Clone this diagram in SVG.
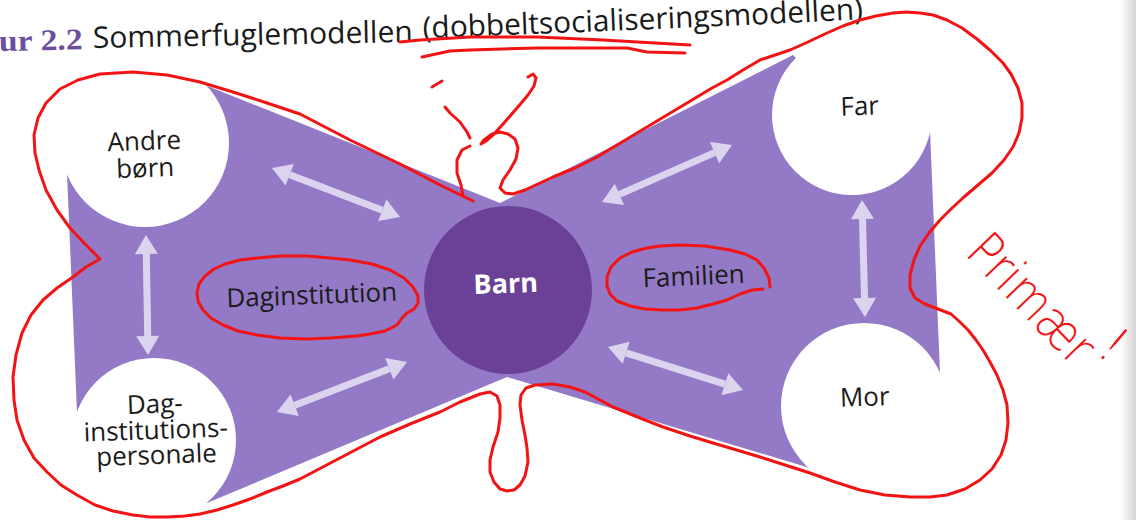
<svg xmlns="http://www.w3.org/2000/svg" width="1136" height="520" viewBox="0 0 1136 520">
  <defs>
    <style>
      .wing { fill: #9479c6; }
      .node { fill: #ffffff; }
      .core { fill: #6a4197; }
      .lbl { font-family: "Open Sans", "Noto Sans", "Liberation Sans", sans-serif; font-size: 26px; fill: #1b1b1b; text-anchor: middle; }
      .lblw { font-family: "Open Sans", "Noto Sans", "Liberation Sans", sans-serif; font-size: 27px; font-weight: bold; fill: #ffffff; text-anchor: middle; }
      .arrow { stroke: #dcd4ef; stroke-width: 7; fill: none; marker-start: url(#ah); marker-end: url(#ah); }
      .ink { fill: none; stroke: #f21414; stroke-width: 3; stroke-linecap: round; stroke-linejoin: round; }
      .hand { font-family: "DejaVu Sans", sans-serif; font-weight: 200; font-size: 52px; fill: #f21414; }
      .title { font-family: "Open Sans", "Noto Sans", "Liberation Sans", sans-serif; font-size: 29.8px; fill: #1a1a1a; }
    </style>
    <marker id="ah" markerUnits="userSpaceOnUse" markerWidth="22" markerHeight="26" viewBox="0 -13 20 26" refX="0" refY="0" orient="auto-start-reverse">
      <path d="M0,-11.5 L19,0 L0,11.5 z" fill="#dcd4ef"/>
    </marker>
    <linearGradient id="edge" x1="0" y1="0" x2="1" y2="0">
      <stop offset="0" stop-color="#ffffff"/>
      <stop offset="1" stop-color="#d2d2d2"/>
    </linearGradient>
    <path id="titlePath" d="M423,38 Q650,30 868,19"/>
  </defs>

  <rect x="0" y="0" width="1136" height="520" fill="#ffffff"/>
  <rect x="1120" y="0" width="16" height="520" fill="url(#edge)"/>

  <!-- title -->
  <g id="title">
    <text x="-1" y="51" font-family="Liberation Serif, serif" font-weight="bold" font-size="30" fill="#6b4f9e" textLength="84" lengthAdjust="spacingAndGlyphs" transform="rotate(-1.2 0 51)">ur 2.2</text>
    <text class="title" x="93" y="48" textLength="320" lengthAdjust="spacingAndGlyphs" transform="rotate(-1.1 93 48)">Sommerfuglemodellen</text>
    <text class="title"><textPath href="#titlePath">(dobbeltsocialiseringsmodellen)</textPath></text>
  </g>

  <!-- butterfly body -->
  <g id="wings">
    <polygon class="wing" points="205,85 500,203 793,55 852,115 930,130 940,373 864,406 810,468 507,377 207,503 154,440 77,413 67,173 145,143"/>
  </g>

  <!-- connectors -->
  <g id="connectors">
    <line class="arrow" x1="146.3" y1="254" x2="147.7" y2="336"/>
    <line class="arrow" x1="289.7" y1="174.8" x2="382.3" y2="210.2"/>
    <line class="arrow" x1="294.7" y1="405.2" x2="389.3" y2="368.8"/>
    <line class="arrow" x1="619.4" y1="194.4" x2="714.6" y2="152.6"/>
    <line class="arrow" x1="626.1" y1="352.8" x2="724.9" y2="384.2"/>
    <line class="arrow" x1="862.5" y1="219" x2="864.5" y2="298"/>
  </g>

  <g id="node-andre">
    <circle class="node" cx="145" cy="143" r="84"/>
    <text class="lbl" transform="rotate(-2 145 163)"><tspan x="145" y="150">Andre</tspan><tspan x="145" y="177">børn</tspan></text>
  </g>
  <g id="node-personale">
    <circle class="node" cx="154" cy="440" r="82"/>
    <text class="lbl" transform="rotate(-2 156 439)"><tspan x="156" y="413">Dag-</tspan><tspan x="156" y="439">institutions-</tspan><tspan x="156" y="464">personale</tspan></text>
  </g>
  <g id="node-far">
    <circle class="node" cx="852" cy="115" r="80"/>
    <text class="lbl" x="860" y="115" transform="rotate(-2 860 115)">Far</text>
  </g>
  <g id="node-mor">
    <circle class="node" cx="864" cy="406" r="83"/>
    <text class="lbl" x="865" y="406" transform="rotate(-2 865 406)">Mor</text>
  </g>
  <g id="node-barn">
    <circle class="core" cx="508" cy="290" r="84"/>
    <text class="lblw" x="506" y="293" transform="rotate(-2 506 293)">Barn</text>
  </g>
  <g id="node-daginstitution">
    <text class="lbl" x="312" y="304" transform="rotate(-2.2 312 304)">Daginstitution</text>
  </g>
  <g id="node-familien">
    <text class="lbl" x="694" y="285" transform="rotate(-2.5 694 285)">Familien</text>
  </g>

  <!-- handwritten annotations -->
  <g id="annotations">
    <path class="ink" d="M400,42 L420,40 L470,37 L537,37 L603,40 L690,45"/>
    <path class="ink" d="M422,57 L450,51 L470,50 L537,48 L627,48 L647,52 L685,53"/>
    <path class="ink" d="M473,201 L440,185 L400,164 L350,140 L300,114 L267,103 L233,92 L200,82 L167,75 L133,72 L100,74 L78,80 L60,89 L46,103 L38,118 L34,135 L35,153 L39,170 L46,190 L57,210 L70,228 L84,243 L100,259 L86,267 L73,277 L57,288 L43,300 L31,315 L22,333 L16,355 L13,377 L14,400 L17,420 L24,440 L34,458 L47,472 L61,485 L77,495 L95,505 L113,511 L133,515 L150,517 L167,517 L185,516 L200,514 L217,510 L233,505 L250,499 L267,492 L283,486 L300,479 L340,458 L380,437 L410,424 L440,412 L460,402 L480,394 L490,392 L497,396 L500,405 L500,418 L498,432 L493,447 L490,460 L490,472 L494,482 L500,489 L507,491 L514,490 L520,485 L525,476 L528,462 L527,448 L525,435 L522,420 L520,405 L521,395 L526,388 L535,385 L553,384 L570,387 L585,392 L600,400 L613,407 L640,418 L663,427 L690,436 L713,443 L740,451 L760,457 L785,465 L810,473 L835,482 L860,490 L885,495 L910,497 L930,497 L947,495 L965,489 L980,480 L992,469 L1001,455 L1006,440 L1008,423 L1007,405 L1003,390 L997,375 L990,362 L983,350 L976,340 L968,330 L960,322 L951,314 L938,309 L925,304 L915,298 L910,288 L910,275 L914,260 L920,246 L929,233 L940,220 L952,208 L964,197 L978,185 L992,173 L1004,160 L1013,147 L1019,133 L1022,118 L1022,103 L1018,88 L1011,74 L1003,63 L991,51 L977,39 L962,28 L947,20 L933,15 L920,13 L906,12 L893,13 L876,16 L860,20 L843,26 L827,33 L808,42 L790,50 L775,55 L760,60 L743,70 L727,80 L712,88 L697,97 L672,112 L647,127 L622,142 L597,157 L575,168 L553,177 L540,183 L525,190 L513,194 L505,193 L500,188 L503,180 L510,170 L516,159 L518,148 L515,139 L508,134 L500,132 L492,134 L484,140 L481,144 L486,141 L494,134 L504,123 L517,108 L528,95 L534,86 L536,78 L533,74 L528,77"/>
    <path class="ink" d="M470,146 L462,150 L457,160 L457,173 L461,185 L463,196"/>
    <path class="ink" d="M445,107 L450,113 L460,122 L467,132 L470,138"/>
    <path class="ink" d="M432,87 L442,81"/>
    <path class="ink" d="M197,293 L199,284 L205,276 L214,269 L225,264 L240,260 L257,258 L280,256 L307,256 L330,258 L350,260 L372,264 L390,270 L404,278 L413,287 L418,296 L418,303 L414,309 L407,313 L402,318 L397,325 L385,331 L370,334 L357,336 L330,338 L307,339 L280,338 L257,335 L238,331 L223,325 L211,318 L203,310 L198,301 L197,293"/>
    <path class="ink" d="M770,287 L769,278 L764,268 L757,260 L745,254 L730,250 L705,246 L680,245 L660,246 L647,248 L632,252 L620,258 L611,267 L607,277 L607,286 L610,294 L617,301 L630,306 L645,309 L663,310 L680,310 L697,308 L713,304 L727,300 L740,294 L752,290 L763,289"/>
    <text class="hand" x="964" y="254" transform="rotate(46 964 254)" textLength="158" lengthAdjust="spacingAndGlyphs">Primær</text>
    <text class="hand" x="1094" y="352" transform="rotate(40 1094 352)">!</text>
  </g>
</svg>
